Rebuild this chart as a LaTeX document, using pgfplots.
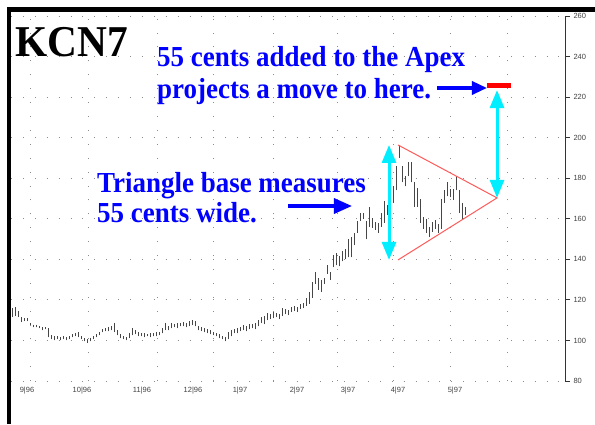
\documentclass[border=0pt]{standalone}
\usepackage{fontspec}
\setmainfont{Liberation Serif}
\newfontfamily\tickfont{Liberation Sans}
\usepackage{graphicx}
\usepackage{pgfplots}
\usepackage{pgfplotstable}
\pgfplotsset{compat=1.18}
\usetikzlibrary{arrows.meta}
\definecolor{NoteBlue}{RGB}{0,0,255}
\definecolor{NoteCyan}{RGB}{0,238,255}
\definecolor{TriRed}{RGB}{255,90,90}
\definecolor{BarGray}{RGB}{70,70,70}

% daily high-low bars, bar index i (3px apart), low and high in cents
\pgfplotstableread{
i lo hi
0 111.5 116
1 112 116.5
2 111.5 114.5
3 109 111.5
4 109.5 111
5 109.5 111
6 107.5 108.5
7 106.5 107.5
8 106.5 107.5
9 106 107
10 105 106.5
11 105.5 106.5
12 101.5 106
13 100.5 102.5
14 100 102
15 100.5 102
16 100 101.5
17 100.5 102
18 100 101.5
19 100.5 102
20 101.5 103
21 102 103.5
22 101.5 104
23 100.5 102
24 99.5 101
25 98.8 100.5
26 99.5 101
27 100.5 102
28 101.5 103
29 102.5 104
30 104 105.5
31 104.5 106
32 104.5 106.5
33 105 107
34 104 108.6
35 102.5 105
36 101 103
37 100.5 102
38 100 101.5
39 101 103.5
40 102.5 106
41 103 105
42 102 104
43 102 103.5
44 101.5 103.5
45 102 103
46 101.5 103.5
47 102 103.5
48 102 104
49 102.5 104
50 103.5 106
51 105 108.5
52 105 107
53 106 108.5
54 106.5 108
55 106 108.5
56 107 108.5
57 107 109
58 106.5 108.5
59 107 109.5
60 107.5 110
61 107 109.5
62 105 107
63 104.5 106.5
64 104 106
65 103.5 105.5
66 103 105
67 102.5 104
68 102 103.5
69 101 103
70 100.5 102
71 99.5 101.5
72 100.5 104
73 102 105
74 103.5 105.5
75 103.5 106
76 104.5 106.5
77 105 107.5
78 104.5 107
79 105.5 108
80 106 108
81 105.5 108.5
82 107 110
83 108.5 111.5
84 108 112
85 110 113.5
86 110.5 113
87 111 114
88 111.5 113.5
89 110.5 113
90 112 116
91 113 115.5
92 112.5 115
93 114 116.5
94 114.5 117
95 114 116.5
96 115.5 118
97 116 118.5
98 117 121
99 118 124
100 121 129
101 128 134
102 125 131
103 124 130
104 128 131
105 133 137
106 130 134
107 136 142
108 137 143
109 136.5 141.5
110 139 144
111 140 145
112 141 150
113 141 151
114 147 153
115 153 159
116 159 163
117 160 163
118 150 159
119 156 166
120 155.5 160.5
121 154.5 158.5
122 153 158
123 156 163
124 158 169
125 162 167
126 165 172
127 168 176
128 174 186
129 190 196.4
130 178 186
131 176 181
132 181 188
133 178 188
134 166 178
135 166 175
136 158 170
137 155 161
138 153 160
139 151 156
140 153.5 158.5
141 155 159.5
142 153 157.5
143 155 170
144 168 174
145 171 178
146 170.5 174.5
147 169.5 174.5
148 174 181
149 163 174
150 160 168
151 162 166
}\kcbars

\begin{document}
\begin{tikzpicture}[x=1pt,y=1pt]
\useasboundingbox (0,0) rectangle (595,424);
\begin{axis}[
 at={(11pt,43pt)}, anchor=south west,
 scale only axis, width=554pt, height=365pt,
 xmin=-0.3333, xmax=184.3333, ymin=80, ymax=260,
 clip=false,
 axis y line*=right, axis x line*=bottom,
 x axis line style={draw=none},
 y axis line style={black!80, line width=0.8pt},
 xtick={6,25.33,48.33,67,87,108.33,127,146,165},
 xticklabels={},
 extra x ticks={5,23.33,43.33,60.33,76,95,112,128.67,147.67},
 extra x tick labels={\mbox{9|96},\mbox{10|96},\mbox{11|96},\mbox{12|96},\mbox{1|97},\mbox{2|97},\mbox{3|97},\mbox{4|97},\mbox{5|97}},
 extra x tick style={grid=none, xtick style={draw=none}},
 xtick style={draw=none},
 ytick={80,100,...,260},
 xtick align=inside, ytick align=outside,
 major tick length=5pt,
 ytick style={black!80, line width=0.8pt},
 xticklabel style={yshift=-3pt},
 xmajorgrids, ymajorgrids,
 x grid style={black!45, line width=0.9pt, dash pattern=on 0.9pt off 13pt},
 y grid style={black!45, line width=0.9pt, dash pattern=on 0.9pt off 11pt},
 ticklabel style={font=\tickfont\fontsize{7.5}{8}\selectfont, text=black!75},
 /pgf/number format/assume math mode=true,
]
\addplot[BarGray, only marks, mark size=0pt, mark options={draw=none, fill=none},
 error bars/.cd, y dir=plus, y explicit, error mark=none,
 error bar style={BarGray, line width=0.9pt}]
 table[x=i, y=lo, y error expr=\thisrow{hi}-\thisrow{lo}] {\kcbars};

% triangle and projected target
\draw[TriRed, line width=1pt] (axis cs:128.67,196.4) -- (axis cs:161.67,170.3) -- (axis cs:128.67,139.7);
\draw[red, line width=5pt] (axis cs:158.33,225.7) -- (axis cs:166.33,225.7);
\draw[NoteCyan, line width=3pt, {Triangle[length=18pt,width=14pt]}-{Triangle[length=18pt,width=14pt]}]
 (axis cs:125.67,196.4) -- (axis cs:125.67,139.7);
\draw[NoteCyan, line width=3pt, {Triangle[length=18pt,width=14pt]}-{Triangle[length=18pt,width=14pt]}]
 (axis cs:161.67,223.5) -- (axis cs:161.67,170.3);
\draw[NoteBlue, line width=3.3pt, -{Triangle[length=18pt,width=15pt]}] (axis cs:92,166.3) -- (axis cs:113.33,166.3);
\draw[NoteBlue, line width=3.3pt, -{Triangle[length=15pt,width=13pt]}] (axis cs:141.67,224.5) -- (axis cs:158.33,224.5);

% labels
\node[anchor=base west, inner sep=0pt, font=\fontsize{44}{44}\selectfont\bfseries]
 at (axis cs:1,239.8) {\scalebox{0.94}[1]{KCN7}};
\node[anchor=base west, inner sep=0pt, text=NoteBlue, font=\fontsize{29}{29}\selectfont\bfseries]
 at (axis cs:48.33,235.1) {\scalebox{0.93}[1]{55 cents added to the Apex}};
\node[anchor=base west, inner sep=0pt, text=NoteBlue, font=\fontsize{29}{29}\selectfont\bfseries]
 at (axis cs:48.33,219.3) {\scalebox{0.93}[1]{projects a move to here.}};
\node[anchor=base west, inner sep=0pt, text=NoteBlue, font=\fontsize{29}{29}\selectfont\bfseries]
 at (axis cs:28.33,173.2) {\scalebox{0.93}[1]{Triangle base measures}};
\node[anchor=base west, inner sep=0pt, text=NoteBlue, font=\fontsize{29}{29}\selectfont\bfseries]
 at (axis cs:28.33,158.4) {\scalebox{0.93}[1]{55 cents wide.}};
\end{axis}
% frame
\draw[black, line width=4.5pt, line join=miter] (9,0) -- (9,414.5) -- (595,414.5);
\end{tikzpicture}
\end{document}
